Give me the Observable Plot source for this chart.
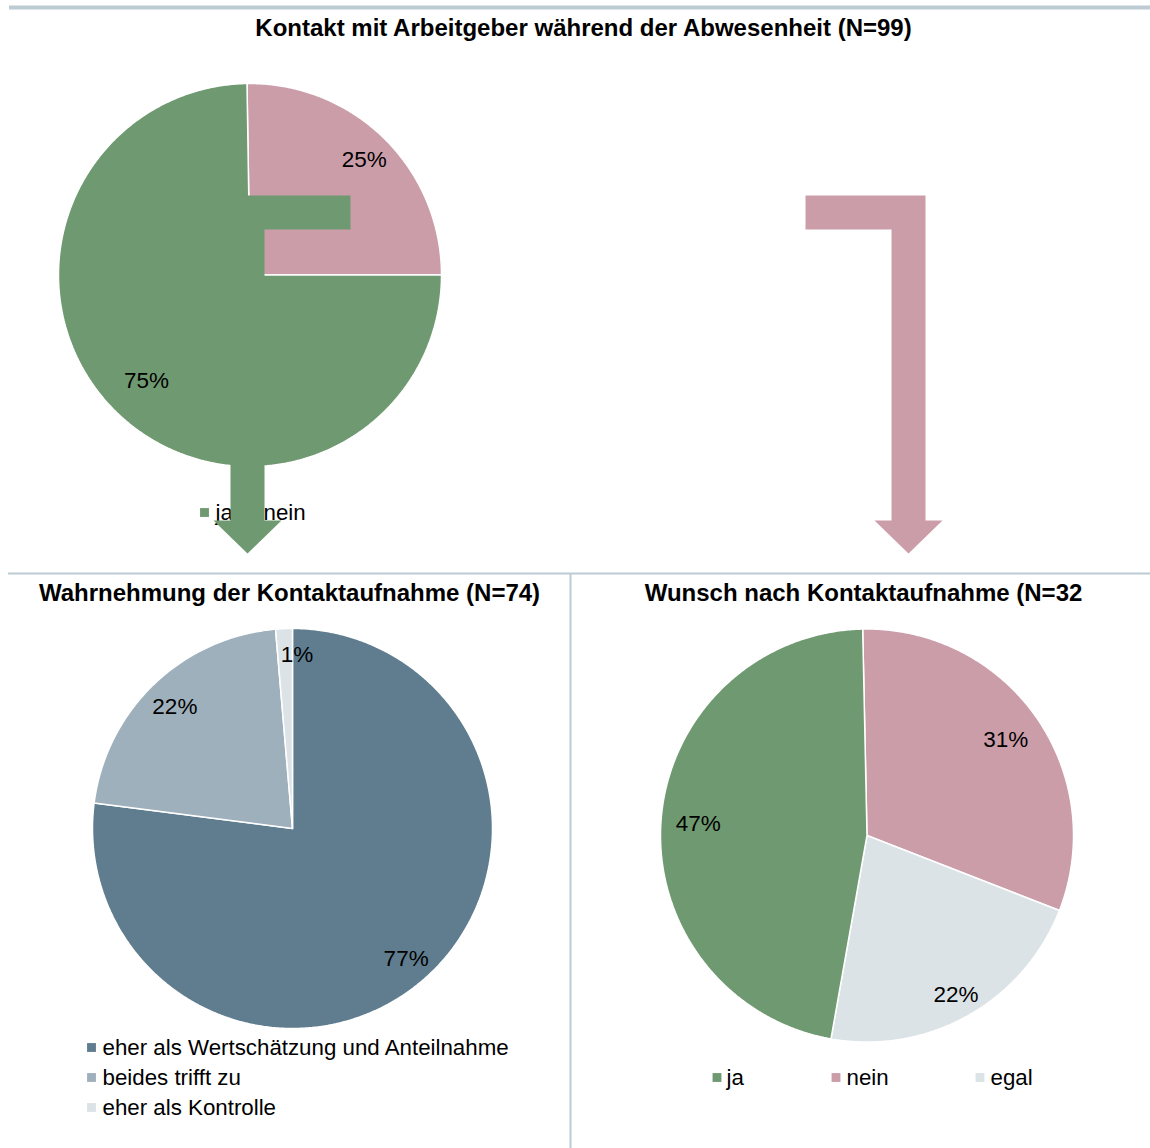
<!DOCTYPE html>
<html>
<head>
<meta charset="utf-8">
<script src="https://cdn.jsdelivr.net/npm/d3@7"></script>
<script src="https://cdn.jsdelivr.net/npm/@observablehq/plot@0.6"></script>
<style>
  html, body { margin: 0; padding: 0; background: #ffffff; }
  #chart { width: 1150px; height: 1148px; }
</style>
</head>
<body>
<div id="chart"></div>
<script>
// ---------------- DATA ----------------
const topTitle = "Kontakt mit Arbeitgeber während der Abwesenheit (N=99)";
const topCats = ["ja", "nein"];
const topValues = [74, 25];
const topLabels = ["75%", "25%"];

const leftTitle = "Wahrnehmung der Kontaktaufnahme (N=74)";
const leftCats = ["eher als Wertschätzung und Anteilnahme", "beides trifft zu", "eher als Kontrolle"];
const leftValues = [57, 16, 1];
const leftLabels = ["77%", "22%", "1%"];

const rightTitle = "Wunsch nach Kontaktaufnahme (N=32";
const rightCats = ["ja", "nein", "egal"];
const rightValues = [15, 10, 7];
const rightLabels = ["47%", "31%", "22%"];

const colorDomain = ["ja", "nein", "egal", "eher als Wertschätzung und Anteilnahme", "beides trifft zu", "eher als Kontrolle"];
const colorRange = ["#6f9970", "#cb9da9", "#dce3e7", "#5f7d8e", "#9fb0bd", "#dce3e7"];

// ---------------- LAYOUT ----------------
const W = 1150, H = 1148;
const FONT = "'Liberation Sans', Arial, Helvetica, sans-serif";
const pies = [
  {cats: topCats, values: topValues, labels: topLabels, cx: 249.5, cy: 274.5, r: 191.5,
   order: [1, 0], start: -0.9, labelR: [0.77, 0.85], labelDA: [0, 0]},
  {cats: leftCats, values: leftValues, labels: leftLabels, cx: 292, cy: 828, r: 200,
   order: [0, 1, 2], start: 0, labelR: [0.86, 0.85, 0.875], labelDA: [0, 0, 3.9]},
  {cats: rightCats, values: rightValues, labels: rightLabels, cx: 866.5, cy: 835, r: 206.5,
   order: [1, 2, 0], start: -1.2, labelR: [0.82, 0.82, 0.88], labelDA: [0, 0, 0]}
];

const sliceRows = [];
const labelRows = [];
pies.forEach((p, pi) => {
  const total = d3.sum(p.values);
  let a = p.start;
  p.order.forEach(i => {
    const span = p.values[i] / total * 360;
    const a0 = a, a1 = a + span;
    const id = `p${pi}-${i}`;
    const pt = (ang, rr) => ({x: p.cx + rr * Math.sin(ang * Math.PI / 180), y: p.cy - rr * Math.cos(ang * Math.PI / 180)});
    sliceRows.push({id, cat: p.cats[i], x: p.cx, y: p.cy});
    const n = Math.max(2, Math.ceil(span / 0.5));
    for (let k = 0; k <= n; k++) {
      const q = pt(a0 + span * k / n, p.r);
      sliceRows.push({id, cat: p.cats[i], x: q.x, y: q.y});
    }
    sliceRows.push({id, cat: p.cats[i], x: p.cx, y: p.cy});
    const m = pt((a0 + a1) / 2 + p.labelDA[i], p.r * p.labelR[i]);
    labelRows.push({x: m.x, y: m.y + 1, text: p.labels[i]});
    a = a1;
  });
});

// bent arrows: horizontal bar -> corner -> down to tip
function arrow(id, cat, xStart, xStem, stemW, yTop, yHead, yTip, headW, dir) {
  const barH = stemW;
  let pts;
  if (dir < 0) {
    const sx0 = xStem, sx1 = xStem + stemW, mid = (sx0 + sx1) / 2;
    pts = [[xStart, yTop], [sx0, yTop], [sx0, yHead], [mid - headW / 2, yHead], [mid, yTip],
           [mid + headW / 2, yHead], [sx1, yHead], [sx1, yTop + barH], [xStart, yTop + barH], [xStart, yTop]];
  } else {
    const sx1 = xStem, sx0 = xStem - stemW, mid = (sx0 + sx1) / 2;
    pts = [[xStart, yTop], [sx1, yTop], [sx1, yHead], [mid + headW / 2, yHead], [mid, yTip],
           [mid - headW / 2, yHead], [sx0, yHead], [sx0, yTop + barH], [xStart, yTop + barH], [xStart, yTop]];
  }
  return pts.map(([x, y]) => ({id, cat, x, y}));
}
const arrowRows = [
  ...arrow("a-ja", "ja", 350, 230, 34, 195, 520, 553, 68, -1),
  ...arrow("a-nein", "nein", 805, 925, 34, 195, 520, 553, 68, 1)
];

const titleRows = [
  {x: 583, y: 28, text: topTitle},
  {x: 289, y: 593, text: leftTitle},
  {x: 863, y: 593, text: rightTitle}
];

const legendRows = [
  {cat: "ja", text: "ja", mx: 204, tx: 215, y: 512},
  {cat: "nein", text: "nein", mx: 252, tx: 263, y: 512},
  {cat: leftCats[0], text: leftCats[0], mx: 91, tx: 102, y: 1047},
  {cat: leftCats[1], text: leftCats[1], mx: 91, tx: 102, y: 1077},
  {cat: leftCats[2], text: leftCats[2], mx: 91, tx: 102, y: 1107},
  {cat: "ja", text: "ja", mx: 716.5, tx: 726, y: 1077},
  {cat: "nein", text: "nein", mx: 835.5, tx: 846, y: 1077},
  {cat: "egal", text: "egal", mx: 979.5, tx: 990, y: 1077}
];

const divider = "#bccbd4";

const chart = Plot.plot({
  width: W,
  height: H,
  margin: 0,
  x: {domain: [0, W], range: [0, W], axis: null},
  y: {domain: [0, H], range: [0, H], axis: null},
  color: {domain: colorDomain, range: colorRange},
  style: {fontFamily: FONT, background: "#ffffff", overflow: "visible"},
  marks: [
    Plot.ruleY([7], {x1: 9, x2: W, stroke: divider, strokeWidth: 4}),
    Plot.ruleY([573], {x1: 8, x2: W, stroke: divider, strokeWidth: 2}),
    Plot.ruleX([570], {y1: 573, y2: H, stroke: divider, strokeWidth: 2}),
    Plot.line(sliceRows, {x: "x", y: "y", z: "id", fill: "cat", stroke: "#ffffff", strokeWidth: 1.5, strokeLinejoin: "miter", curve: "linear"}),
    Plot.text(labelRows, {x: "x", y: "y", text: "text", fontSize: 22.5, fill: "#000000", fontFamily: FONT}),
    Plot.text(titleRows, {x: "x", y: "y", text: "text", fontSize: 24, fontWeight: "bold", fill: "#000000", fontFamily: FONT}),
    Plot.dot(legendRows, {x: "mx", y: "y", fill: "cat", symbol: "square", r: 5, stroke: null}),
    Plot.text(legendRows, {x: "tx", y: "y", text: "text", textAnchor: "start", fontSize: 22.3, fill: "#000000", fontFamily: FONT}),
    Plot.line(arrowRows, {x: "x", y: "y", z: "id", fill: "cat", stroke: "none", curve: "linear"})
  ]
});
document.getElementById("chart").appendChild(chart);
</script>
</body>
</html>
